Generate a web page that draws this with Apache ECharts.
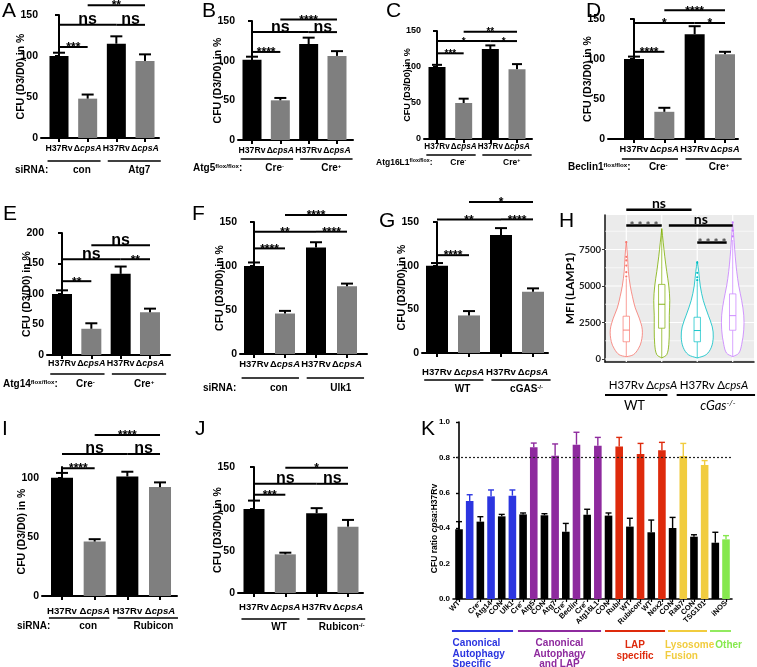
<!DOCTYPE html>
<html>
<head>
<meta charset="utf-8">
<script src="https://cdn.jsdelivr.net/npm/echarts@6.0.0/dist/echarts.min.js"></script>
<style>
html,body{margin:0;padding:0;background:#fff;}
#chart{width:757px;height:667px;}
</style>
</head>
<body>
<div id="chart"></div>
<script>
// ================= DATA =================
const strainLabels = ['H37Rv', 'Δ{i|cpsA}', 'H37Rv', 'Δ{i|cpsA}'];
const yTitleCFU = 'CFU (D3/D0) in %';

const valuesA = [100, 48, 115, 94];
const errorsA = [4, 5, 9, 8];
const sigA = [[0, 1, 111, '***'], [0, 2, 138, 'ns'], [2, 3, 138, 'ns'], [1, 3, 162, '**']];
const groupsA = ['con', 'Atg7'];
const prefixA = 'siRNA:';

const valuesB = [101, 50, 121, 106];
const errorsB = [4, 3, 8, 6];
const sigB = [[0, 1, 111, '****'], [0, 2, 136, 'ns'], [2, 3, 136, 'ns'], [1, 3, 152, '****']];
const groupsB = ['Cre{s|-}', 'Cre{s|+}'];
const prefixB = 'Atg5{s|flox/flox}:';

const valuesC = [100, 50, 125, 97];
const errorsC = [3, 6, 5, 7];
const sigC = [[0, 1, 119, '***'], [0, 2, 136, '*'], [2, 3, 136, '*'], [1, 3, 149, '**']];
const groupsC = ['Cre{s|-}', 'Cre{s|+}'];
const prefixC = 'Atg16L1{s|flox/flox}:';

const valuesD = [100, 34, 131, 106];
const errorsD = [3, 5, 10, 3];
const sigD = [[0, 1, 109, '****'], [0, 2, 145, '*'], [2, 3, 145, '*'], [1, 3, 161, '****']];
const groupsD = ['Cre{s|-}', 'Cre{s|+}'];
const prefixD = 'Beclin1{s|flox/flox}:';

const valuesE = [100, 43, 133, 70];
const errorsE = [6, 9, 12, 6];
const sigE = [[0, 1, 121, '**'], [0, 2, 157, 'ns'], [2, 3, 157, '**'], [1, 3, 180, 'ns']];
const groupsE = ['Cre{s|-}', 'Cre{s|+}'];
const prefixE = 'Atg14{s|flox/flox}:';

const valuesF = [100, 46, 121, 77];
const errorsF = [4, 3, 6, 3];
const sigF = [[0, 1, 120, '****'], [0, 2, 139, '**'], [2, 3, 139, '****'], [1, 3, 158, '****']];
const groupsF = ['con', 'Ulk1'];
const prefixF = 'siRNA:';

const valuesG = [100, 43, 135, 70];
const errorsG = [3, 5, 8, 4];
const sigG = [[0, 1, 112, '****'], [0, 2, 153, '**'], [2, 3, 153, '****'], [1, 3, 173, '*']];
const groupsG = ['WT', 'cGAS{s|-/-}'];
const prefixG = '';

const valuesI = [100, 46, 101, 92];
const errorsI = [4, 2, 4, 4];
const sigI = [[0, 1, 108, '****'], [0, 2, 120, 'ns'], [2, 3, 120, 'ns'], [1, 3, 136, '****']];
const groupsI = ['con', 'Rubicon'];
const prefixI = 'siRNA:';

const valuesJ = [100, 46, 95, 79];
const errorsJ = [10, 2, 6, 8];
const sigJ = [[0, 1, 117, '***'], [0, 2, 130, 'ns'], [2, 3, 130, 'ns'], [1, 3, 149, '*']];
const groupsJ = ['WT', 'Rubicon{s|-/-}'];
const prefixJ = '';

// Panel H (violins of MFI LAMP1)
const hLabels = ['H37Rv', 'Δ{i|cpsA}', 'H37Rv', 'Δ{i|cpsA}'];
const hTicks = [0, 2500, 5000, 7500];
const hMinor = [1250, 3750, 6250, 8750];
const hProfileRed = [[150, 0], [300, 0.45], [700, 0.75], [1200, 0.94], [2000, 1], [2800, 0.81], [3500, 0.56], [4300, 0.38], [5000, 0.25], [6000, 0.13], [7000, 0.08], [8050, 0]];
const hProfileGreen = [[70, 0], [300, 0.31], [1000, 0.44], [2000, 0.47], [3000, 0.47], [4000, 0.5], [5000, 0.44], [6000, 0.31], [7000, 0.19], [8000, 0.09], [8930, 0]];
const hProfileCyan = [[70, 0], [300, 0.56], [800, 0.88], [1500, 1], [2200, 0.94], [3000, 0.69], [4000, 0.38], [5000, 0.19], [6000, 0.09], [6700, 0]];
const hProfilePurple = [[160, 0], [400, 0.38], [1000, 0.56], [2000, 0.69], [3000, 0.69], [4000, 0.56], [5000, 0.38], [6000, 0.25], [7000, 0.16], [8000, 0.09], [9360, 0]];
// [whiskerLow, q1, median, q3, whiskerHigh]
const hBoxes = [[150, 1180, 1980, 2930, 5520], [70, 2110, 3750, 5110, 8930], [70, 1180, 1950, 2860, 5320], [160, 1970, 2970, 4460, 8150]];
const hOutliers = [[5650, 5950, 6400, 6750, 7000, 8000], [], [5400, 5600, 5900, 6600], [8400, 8800, 9360]];
const sigH = [[1, 2, 9136, '* * * *'], [2.2, 4, 9136, 'ns'], [3, 3.83, 7977, '* * * *'], [1, 2.84, 10227, 'ns']];
const groupsH = ['WT', '{it|cGas}{s|-/-}'];
const spansH = [[0.4, 2.16], [2.42, 4.63]];
const groupCentersH = [1.23, 3.58];

// Panel K
const labelsK = ['WT', 'cGAS', 'Cre⁻', 'Atg14', 'CON', 'Ulk1', 'Cre⁻', 'Atg5', 'CON', 'Atg7', 'Cre⁻', 'Beclin', 'Cre⁻', 'Atg16L1', 'CON', 'Rubi', 'WT', 'Rubicon', 'WT', 'Nox2', 'CON', 'Rab7', 'CON', 'TSG101', 'WT', 'iNOS'];
const valuesK = [0.394, 0.554, 0.437, 0.580, 0.467, 0.584, 0.478, 0.857, 0.473, 0.810, 0.380, 0.872, 0.476, 0.866, 0.471, 0.861, 0.409, 0.819, 0.377, 0.840, 0.401, 0.808, 0.352, 0.757, 0.318, 0.337];
const errorsK = [0.043, 0.035, 0.028, 0.036, 0.011, 0.032, 0.008, 0.024, 0.009, 0.066, 0.047, 0.070, 0.031, 0.047, 0.015, 0.052, 0.047, 0.060, 0.069, 0.045, 0.060, 0.071, 0.011, 0.025, 0.059, 0.021];
const groupKeyK = ['k', 'b', 'k', 'b', 'k', 'b', 'k', 'p', 'k', 'p', 'k', 'p', 'k', 'p', 'k', 'r', 'k', 'r', 'k', 'r', 'k', 'y', 'k', 'y', 'k', 'g'];
const thresholdK = 0.8;
const groupNamesK = ['Canonical\nAutophagy\nSpecific', 'Canonical\nAutophagy\nand LAP', 'LAP\nspecific', 'Lysosome\nFusion', 'Other'];
const groupKeysK = ['b', 'p', 'r', 'y', 'g'];
const spansK = [[-0.66, 5.06], [5.52, 13.3], [13.67, 19.29], [19.57, 23.22], [23.5, 25.47]];
const textAnchorK = [-0.6, 9.41, 16.48, 19.3, 24.0];

// ================= STYLE =================
const SANS = "'Liberation Sans',Arial,sans-serif";
const LATO = "Lato,'Open Sans',sans-serif";
const BLACK = '#000000', GRAY = '#7f7f7f';
const colorK = { k: '#000000', b: '#2B35E0', p: '#8E2A9E', r: '#DE2A0C', y: '#F1CC3E', g: '#86E84E' };
const hColors = ['#F8766D', '#7CAE00', '#00BFC4', '#C77CFF'];

const option = { animation: false, backgroundColor: '#ffffff', grid: [], xAxis: [], yAxis: [], series: [], graphic: [] };

function addBarPanel(L, D) {
  const gi = option.grid.length;
  option.grid.push({ left: L.axisX, top: L.top, width: L.endX - L.axisX, height: L.y0 - L.top });
  const xmin = -(L.c0 - L.axisX) / L.d, xmax = (L.endX - L.c0) / L.d;
  const idx = D.values.map((_, i) => i);
  const fs = L.fs || Math.min(9.6, L.d * 0.95 / 3.11);
  option.xAxis.push({
    gridIndex: gi, type: 'value', min: xmin, max: xmax,
    axisLine: { show: true, onZero: false, lineStyle: { color: '#000', width: 2 } },
    axisTick: { show: true, customValues: idx, length: 4, lineStyle: { color: '#000', width: 2 } },
    axisLabel: {
      show: true, customValues: idx, interval: 0, margin: L.lblMargin, formatter: v => strainLabels[v],
      showMinLabel: true, showMaxLabel: true, hideOverlap: false,
      color: '#000', fontWeight: 'bold', fontSize: fs, fontFamily: SANS,
      rich: { i: { fontStyle: 'italic', fontWeight: 'bold', fontSize: fs, fontFamily: SANS, color: '#000' } }
    },
    splitLine: { show: false }
  });
  const yAx = {
    gridIndex: gi, type: 'value', min: 0, max: L.yMax,
    axisLine: { show: true, lineStyle: { color: '#000', width: 2 } },
    axisTick: { show: true, length: 4, lineStyle: { color: '#000', width: 2 } },
    axisLabel: { color: '#000', fontWeight: 'bold', fontSize: L.tfs, fontFamily: SANS, margin: 3, showMinLabel: true, showMaxLabel: true },
    splitLine: { show: false },
    name: yTitleCFU, nameLocation: 'middle', nameGap: L.nameGap, nameMoveOverlap: false,
    nameTextStyle: { color: '#000', fontWeight: 'bold', fontSize: L.nfs, fontFamily: SANS }
  };
  if (L.yTicks) { yAx.axisLabel.customValues = L.yTicks; yAx.axisTick.customValues = L.yTicks; }
  else { yAx.interval = L.yInt; }
  option.yAxis.push(yAx);

  option.series.push({
    type: 'bar', xAxisIndex: gi, yAxisIndex: gi, barWidth: L.bw, z: 2,
    data: D.values.map((v, i) => ({ value: [i, v], itemStyle: { color: i % 2 ? GRAY : BLACK } }))
  });
  option.series.push({
    type: 'custom', xAxisIndex: gi, yAxisIndex: gi, clip: false, z: 3,
    encode: { x: 0, y: [1, 2] },
    data: D.values.map((v, i) => [i, v, v + D.errors[i]]),
    renderItem: (params, api) => {
      const p0 = api.coord([api.value(0), api.value(1)]);
      const p1 = api.coord([api.value(0), api.value(2)]);
      const cw = L.cap / 2;
      return { type: 'group', children: [
        { type: 'line', shape: { x1: p0[0], y1: p0[1], x2: p1[0], y2: p1[1] }, style: { stroke: '#000', lineWidth: 2 } },
        { type: 'line', shape: { x1: p1[0] - cw, y1: p1[1], x2: p1[0] + cw, y2: p1[1] }, style: { stroke: '#000', lineWidth: 2 } }
      ] };
    }
  });
  option.series.push({
    type: 'custom', xAxisIndex: gi, yAxisIndex: gi, clip: false, z: 4,
    encode: { x: [0, 1], y: 2 },
    data: D.sigs.map(s => [s[0], s[1], s[2]]),
    renderItem: (params, api) => {
      const txt = D.sigs[params.dataIndex][3];
      const p1 = api.coord([api.value(0), api.value(2)]);
      const p2 = api.coord([api.value(1), api.value(2)]);
      const ns = txt === 'ns';
      return { type: 'group', children: [
        { type: 'line', shape: { x1: p1[0], y1: p1[1], x2: p2[0], y2: p2[1] }, style: { stroke: '#000', lineWidth: 2 } },
        { type: 'text', style: {
          text: txt, x: (p1[0] + p2[0]) / 2, y: p1[1] + (ns ? L.nsOff : L.astOff),
          align: 'center', verticalAlign: 'bottom', fill: '#000', fontWeight: 'bold',
          fontSize: ns ? L.nsFs : L.astFs, fontFamily: SANS } }
      ] };
    }
  });
  option.series.push({
    type: 'custom', xAxisIndex: gi, yAxisIndex: gi, clip: false, z: 4,
    encode: { x: [0, 1], y: 2 },
    data: D.groups.map((g, k) => [2 * k, 2 * k + 1, 0]),
    renderItem: (params, api) => {
      const k = params.dataIndex;
      const a = api.value(0), b = api.value(1);
      const lft = k === 0 ? a - 0.4 : a - 0.3, rgt = k === 0 ? b + 0.45 : b + 0.55;
      const pL = api.coord([lft, 0]), pR = api.coord([rgt, 0]);
      const pc = api.coord([(a + b) / 2 + 0.3, 0]);
      const y0 = pL[1];
      const rich = { s: { fontSize: L.gfs * 0.62, fontWeight: 'bold', fontFamily: SANS, verticalAlign: 'top', fill: '#000' } };
      const ch = [
        { type: 'line', shape: { x1: pL[0], y1: y0 + L.lineDy, x2: pR[0], y2: y0 + L.lineDy }, style: { stroke: '#000', lineWidth: 1.6 } },
        { type: 'text', style: { text: D.groups[k], x: pc[0], y: y0 + L.textDy, align: 'center', verticalAlign: 'middle',
          fill: '#000', fontWeight: 'bold', fontSize: L.gfs, fontFamily: SANS, rich } }
      ];
      if (k === 0 && D.prefix) {
        ch.push({ type: 'text', style: { text: D.prefix, x: L.prefixX - L.axisX + api.coord([xmin, 0])[0], y: y0 + L.textDy,
          align: 'left', verticalAlign: 'middle', fill: '#000', fontWeight: 'bold', fontSize: L.gfs, fontFamily: SANS, rich } });
      }
      return { type: 'group', children: ch };
    }
  });
}

const base = { yMax: 150, yInt: 50, tfs: 10.5, nfs: 10.5, gfs: 10, nsFs: 16, astFs: 12, nsOff: 3, astOff: 7, cap: 12, lblMargin: 6, nameGap: 14 };
const P = (o) => Object.assign({}, base, o);

addBarPanel(P({ axisX: 41, endX: 159, top: 15, y0: 138, c0: 59, d: 28.67, bw: 19, lineDy: 23, textDy: 32, prefixX: 15 }),
  { values: valuesA, errors: errorsA, sigs: sigA, groups: groupsA, prefix: prefixA });
addBarPanel(P({ axisX: 238, endX: 353, top: 21, y0: 140, c0: 252, d: 28.33, bw: 19, lineDy: 19, textDy: 28, prefixX: 193 }),
  { values: valuesB, errors: errorsB, sigs: sigB, groups: groupsB, prefix: prefixB });
addBarPanel(P({ axisX: 424, endX: 532, top: 31, y0: 139, c0: 437, d: 26.67, bw: 17, tfs: 9, nfs: 9, gfs: 8.5, astFs: 10, nsFs: 12, astOff: 6, cap: 10, lblMargin: 4, lineDy: 16, textDy: 24, prefixX: 376, nameGap: 12 }),
  { values: valuesC, errors: errorsC, sigs: sigC, groups: groupsC, prefix: prefixC });
addBarPanel(P({ axisX: 608, endX: 738, top: 19, y0: 139, c0: 634, d: 30.33, bw: 20, lineDy: 20, textDy: 28, prefixX: 568 }),
  { values: valuesD, errors: errorsD, sigs: sigD, groups: groupsD, prefix: prefixD });
addBarPanel(P({ axisX: 47, endX: 170, top: 233, y0: 355, c0: 62, d: 29.33, yMax: 200, bw: 20, lblMargin: 4, lineDy: 19, textDy: 29, prefixX: 3 }),
  { values: valuesE, errors: errorsE, sigs: sigE, groups: groupsE, prefix: prefixE });
addBarPanel(P({ axisX: 240, endX: 367, top: 222, y0: 354, c0: 254, d: 31, bw: 20, lineDy: 24, textDy: 34, prefixX: 203 }),
  { values: valuesF, errors: errorsF, sigs: sigF, groups: groupsF, prefix: prefixF });
addBarPanel(P({ axisX: 422, endX: 548, top: 222, y0: 353, c0: 437, d: 32, bw: 22, lblMargin: 14, lineDy: 27, textDy: 36 }),
  { values: valuesG, errors: errorsG, sigs: sigG, groups: groupsG, prefix: prefixG });
addBarPanel(P({ axisX: 42, endX: 177, top: 467, y0: 596, c0: 62, d: 32.67, yMax: 109, yTicks: [0, 50, 100], bw: 22, lblMargin: 10, lineDy: 22, textDy: 30, prefixX: 17 }),
  { values: valuesI, errors: errorsI, sigs: sigI, groups: groupsI, prefix: prefixI });
addBarPanel(P({ axisX: 238, endX: 363, top: 467, y0: 593, c0: 254, d: 31.33, bw: 21, lblMargin: 9, lineDy: 26, textDy: 34 }),
  { values: valuesJ, errors: errorsJ, sigs: sigJ, groups: groupsJ, prefix: prefixJ });

// ---------- Panel H ----------
(function () {
  const gi = option.grid.length;
  option.grid.push({ left: 605, top: 215, width: 149, height: 147, show: true, backgroundColor: '#EBEBEB', borderWidth: 0 });
  option.xAxis.push({
    gridIndex: gi, type: 'value', min: 0.4, max: 4.6,
    axisLine: { show: true, onZero: false, lineStyle: { color: '#111', width: 1.5 } },
    axisTick: { show: false },
    axisLabel: { customValues: [1, 2, 3, 4], interval: 0, formatter: v => hLabels[v - 1], margin: 17, color: '#000', fontSize: 11.5, fontFamily: LATO,
      showMinLabel: true, showMaxLabel: true, hideOverlap: false,
      rich: { i: { fontStyle: 'italic', fontSize: 11.5, fontFamily: LATO, color: '#000' } } },
    splitLine: { show: false }
  });
  option.yAxis.push({
    gridIndex: gi, type: 'value', min: -205, max: 9863,
    axisLine: { show: true, lineStyle: { color: '#111', width: 1.5 } },
    axisTick: { show: true, customValues: hTicks, length: 3, lineStyle: { color: '#333' } },
    axisLabel: { customValues: hTicks, formatter: v => String(v), color: '#222', fontWeight: 'bold', fontSize: 9.5, fontFamily: LATO, margin: 4,
      showMinLabel: true, showMaxLabel: true },
    splitLine: { show: false },
    name: 'MFI (LAMP1)', nameLocation: 'middle', nameGap: 29, nameMoveOverlap: false,
    nameTextStyle: { color: '#000', fontWeight: 'bold', fontSize: 12, fontFamily: LATO }
  });
  // grid lines
  const gl = hTicks.map(v => [v, 0]).concat(hMinor.map(v => [v, 1]));
  option.series.push({
    type: 'custom', xAxisIndex: gi, yAxisIndex: gi, z: 1, encode: { y: 0 }, data: gl,
    renderItem: (params, api) => {
      const cs = params.coordSys;
      const y = api.coord([1, api.value(0)])[1];
      return { type: 'line', shape: { x1: cs.x, y1: y, x2: cs.x + cs.width, y2: y },
        style: { stroke: '#ffffff', lineWidth: api.value(1) ? 0.6 : 1.2 } };
    }
  });
  option.series.push({
    type: 'custom', xAxisIndex: gi, yAxisIndex: gi, z: 1, encode: { x: 0 }, data: [[1], [2], [3], [4]],
    renderItem: (params, api) => {
      const cs = params.coordSys;
      const x = api.coord([api.value(0), 0])[0];
      return { type: 'line', shape: { x1: x, y1: cs.y, x2: x, y2: cs.y + cs.height }, style: { stroke: '#ffffff', lineWidth: 1.2 } };
    }
  });
  const profiles = [hProfileRed, hProfileGreen, hProfileCyan, hProfilePurple];
  option.series.push({
    type: 'custom', xAxisIndex: gi, yAxisIndex: gi, z: 3, clip: false, encode: { x: 0 }, data: [[1], [2], [3], [4]],
    renderItem: (params, api) => {
      const k = params.dataIndex, xv = api.value(0), col = hColors[k];
      const cx = api.coord([xv, 0])[0];
      const W = 16;
      const prof = profiles[k];
      const right = prof.map(p => [cx + p[1] * W, api.coord([xv, p[0]])[1]]);
      const left = prof.slice().reverse().map(p => [cx - p[1] * W, api.coord([xv, p[0]])[1]]);
      const b = hBoxes[k];
      const yy = b.map(v => api.coord([xv, v])[1]);
      const bw = 3.2;
      const ch = [
        { type: 'polygon', shape: { points: right.concat(left), smooth: 0.35 }, style: { fill: '#ffffff', stroke: col, lineWidth: 0.8 } },
        { type: 'line', shape: { x1: cx, y1: yy[0], x2: cx, y2: yy[1] }, style: { stroke: col, lineWidth: 0.7 } },
        { type: 'line', shape: { x1: cx, y1: yy[3], x2: cx, y2: yy[4] }, style: { stroke: col, lineWidth: 0.7 } },
        { type: 'rect', shape: { x: cx - bw, y: yy[3], width: 2 * bw, height: yy[1] - yy[3] }, style: { fill: '#ffffff', stroke: col, lineWidth: 0.7 } },
        { type: 'line', shape: { x1: cx - bw, y1: yy[2], x2: cx + bw, y2: yy[2] }, style: { stroke: col, lineWidth: 0.9 } }
      ];
      hOutliers[k].forEach(v => {
        ch.push({ type: 'circle', shape: { cx: cx, cy: api.coord([xv, v])[1], r: 1.1 }, style: { fill: col } });
      });
      return { type: 'group', children: ch };
    }
  });
  option.series.push({
    type: 'custom', xAxisIndex: gi, yAxisIndex: gi, z: 4, clip: false, encode: { x: [0, 1], y: 2 },
    data: sigH.map(s => [s[0], s[1], s[2]]),
    renderItem: (params, api) => {
      const txt = sigH[params.dataIndex][3];
      const p1 = api.coord([api.value(0), api.value(2)]), p2 = api.coord([api.value(1), api.value(2)]);
      const ns = txt === 'ns';
      return { type: 'group', children: [
        { type: 'line', shape: { x1: p1[0], y1: p1[1], x2: p2[0], y2: p2[1] }, style: { stroke: '#000', lineWidth: 2.5 } },
        { type: 'text', style: { text: txt, x: (p1[0] + p2[0]) / 2, y: p1[1] + (ns ? 1 : 7), align: 'center', verticalAlign: 'bottom',
          fill: ns ? '#000' : '#444', fontWeight: 'bold', fontSize: ns ? 14 : 12, fontFamily: LATO } }
      ] };
    }
  });
  option.series.push({
    type: 'custom', xAxisIndex: gi, yAxisIndex: gi, z: 4, clip: false, encode: { x: [0, 1], y: 2 },
    data: spansH.map(s => [s[0], s[1], 0]),
    renderItem: (params, api) => {
      const k = params.dataIndex;
      const pL = api.coord([api.value(0), 0]), pR = api.coord([api.value(1), 0]);
      const y0 = api.coord([1, -205])[1];
      const pc = api.coord([groupCentersH[k], 0]);
      return { type: 'group', children: [
        { type: 'line', shape: { x1: pL[0], y1: y0 + 33, x2: pR[0], y2: y0 + 33 }, style: { stroke: '#000', lineWidth: 2 } },
        { type: 'text', style: { text: groupsH[k], x: pc[0], y: y0 + 44, align: 'center', verticalAlign: 'middle', fill: '#000', fontSize: 13, fontFamily: LATO,
          rich: { it: { fontStyle: 'italic', fontSize: 13, fontFamily: LATO, fill: '#000' }, s: { fontStyle: 'italic', fontSize: 8, fontFamily: LATO, verticalAlign: 'top', fill: '#000' } } } }
      ] };
    }
  });
})();

// ---------- Panel K ----------
(function () {
  const gi = option.grid.length;
  const axisX = 453, endX = 732, c0 = 459, d = 10.68;
  option.grid.push({ left: axisX, top: 422, width: endX - axisX, height: 599 - 422 });
  const idx = valuesK.map((_, i) => i);
  option.xAxis.push({
    gridIndex: gi, type: 'value', min: -(c0 - axisX) / d, max: (endX - c0) / d,
    axisLine: { show: true, onZero: false, lineStyle: { color: '#000', width: 1.6 } },
    axisTick: { show: true, customValues: idx, length: 3, lineStyle: { color: '#000', width: 1.2 } },
    axisLabel: { customValues: idx, interval: 0, formatter: v => labelsK[v], rotate: 45, margin: 3, color: '#000', fontWeight: 'bold', fontSize: 7.5, fontFamily: SANS,
      showMinLabel: true, showMaxLabel: true, hideOverlap: false },
    splitLine: { show: false }
  });
  option.yAxis.push({
    gridIndex: gi, type: 'value', min: 0, max: 1, interval: 0.2,
    axisLine: { show: true, lineStyle: { color: '#000', width: 1.6 } },
    axisTick: { show: true, length: 3, lineStyle: { color: '#000', width: 1.4 } },
    axisLabel: { formatter: v => v.toFixed(1), color: '#000', fontWeight: 'bold', fontSize: 8, fontFamily: SANS, margin: 3, showMinLabel: true, showMaxLabel: true },
    splitLine: { show: false },
    name: 'CFU ratio {i|cpsa}:H37Rv', nameLocation: 'middle', nameGap: 14, nameMoveOverlap: false,
    nameTextStyle: { color: '#000', fontWeight: 'bold', fontSize: 8.5, fontFamily: SANS, padding: [0, 36, 0, 0],
      rich: { i: { fontStyle: 'italic', fontWeight: 'bold', fontSize: 8.5, fontFamily: SANS, color: '#000' } } }
  });
  option.series.push({
    type: 'bar', xAxisIndex: gi, yAxisIndex: gi, barWidth: 7.6, z: 2,
    data: valuesK.map((v, i) => ({ value: [i, v], itemStyle: { color: colorK[groupKeyK[i]] } })),
    markLine: { silent: true, symbol: 'none', label: { show: false }, lineStyle: { type: [2, 2], color: '#222', width: 1.2 }, data: [{ yAxis: thresholdK }] }
  });
  option.series.push({
    type: 'custom', xAxisIndex: gi, yAxisIndex: gi, clip: false, z: 3, encode: { x: 0, y: [1, 2] },
    data: valuesK.map((v, i) => [i, v, v + errorsK[i]]),
    renderItem: (params, api) => {
      const col = colorK[groupKeyK[params.dataIndex]];
      const p0 = api.coord([api.value(0), api.value(1)]), p1 = api.coord([api.value(0), api.value(2)]);
      return { type: 'group', children: [
        { type: 'line', shape: { x1: p0[0], y1: p0[1], x2: p1[0], y2: p1[1] }, style: { stroke: col, lineWidth: 1.4 } },
        { type: 'line', shape: { x1: p1[0] - 3, y1: p1[1], x2: p1[0] + 3, y2: p1[1] }, style: { stroke: col, lineWidth: 1.4 } }
      ] };
    }
  });
  option.series.push({
    type: 'custom', xAxisIndex: gi, yAxisIndex: gi, clip: false, z: 3, encode: { x: [0, 1], y: 2 },
    data: spansK.map(s => [s[0], s[1], 0]),
    renderItem: (params, api) => {
      const k = params.dataIndex, col = colorK[groupKeysK[k]];
      const pL = api.coord([api.value(0), 0]), pR = api.coord([api.value(1), 0]);
      const y0 = pL[1];
      const align = (k === 1 || k === 2) ? 'center' : 'left';
      const tx = api.coord([textAnchorK[k], 0])[0];
      const ty = y0 + ((k >= 2) ? 41 : 39);
      return { type: 'group', children: [
        { type: 'line', shape: { x1: pL[0], y1: y0 + 32, x2: pR[0], y2: y0 + 32 }, style: { stroke: col, lineWidth: 1.8 } },
        { type: 'text', style: { text: groupNamesK[k], x: tx, y: ty, align: align, verticalAlign: 'top', fill: col, fontWeight: 'bold', fontSize: 10, lineHeight: 10.5, fontFamily: SANS } }
      ] };
    }
  });
})();

// ---------- Panel letters ----------
const panelLetters = [['A', 2, 1], ['B', 202, 1], ['C', 386, 1], ['D', 586, 1], ['E', 3, 204], ['F', 192, 204], ['G', 379, 211], ['H', 559, 211], ['I', 2, 419], ['J', 195, 419], ['K', 421, 419]];
panelLetters.forEach(l => option.graphic.push({ type: 'text', left: l[1], top: l[2], style: { text: l[0], fontSize: 21, fontFamily: SANS, fill: '#000' } }));

const chart = echarts.init(document.getElementById('chart'), null, { renderer: 'canvas', width: 757, height: 667 });
chart.setOption(option);
</script>
</body>
</html>
